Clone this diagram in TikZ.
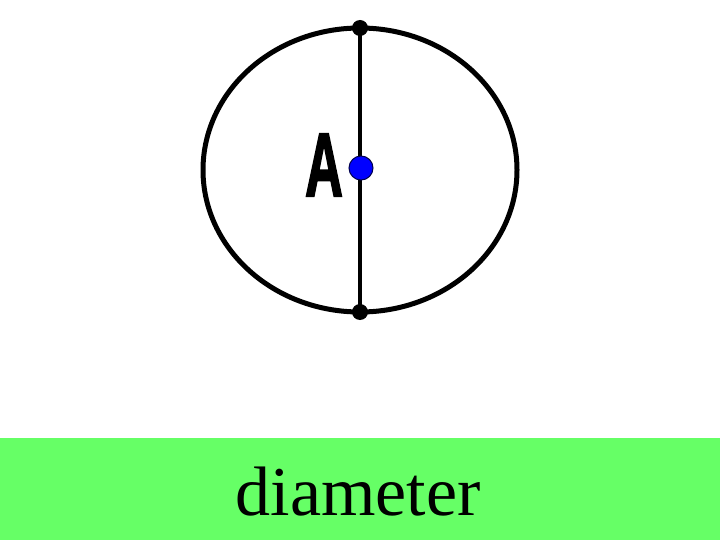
\documentclass[tikz,border=0pt]{standalone}
\usepackage{fontspec}
\setmainfont{Liberation Serif}
\newfontfamily\labfont[FakeBold=2.5]{Liberation Sans Bold}
\definecolor{band}{RGB}{102,255,102}
\definecolor{ptblue}{RGB}{0,0,255}
\begin{document}
\begin{tikzpicture}[x=1pt,y=-1pt,
  endpt/.style={circle,fill=black,inner sep=0pt,minimum size=16pt},
  centerpt/.style={circle,fill=ptblue,draw=black!70!blue,line width=1pt,inner sep=0pt,minimum size=24pt}]
\useasboundingbox (0,0) rectangle (720,540);
\fill[band] (0,438) rectangle (720,540);
\draw[line width=5pt] (360,170) ellipse [x radius=157, y radius=142];
\node[endpt] (top) at (360,28) {};
\node[endpt] (bot) at (360,312) {};
\draw[line width=4pt] (top.center) -- (bot.center);
\node[centerpt] (A) at (361,168) {};
\node (lbl) at (324,165) {\scalebox{0.58}[1]{\labfont\fontsize{90}{90}\selectfont A}};
\node[anchor=base] (word) at (358,515) {\fontsize{70}{70}\selectfont diameter};
\end{tikzpicture}
\end{document}
